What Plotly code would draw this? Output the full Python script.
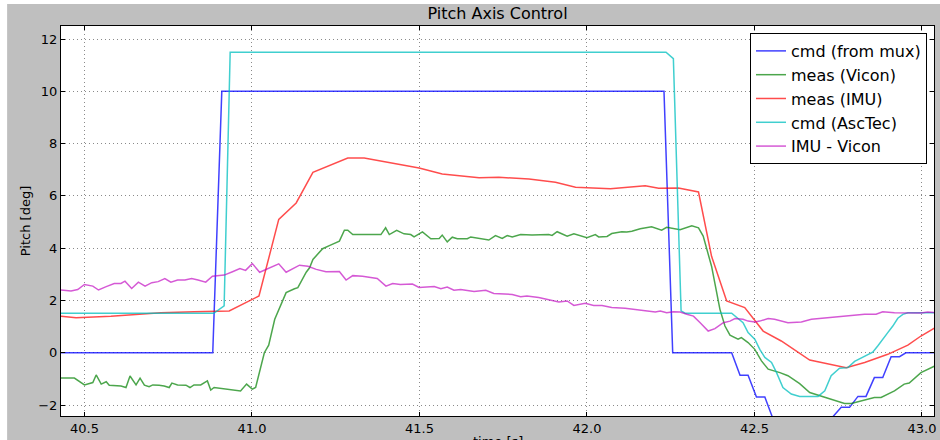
import plotly.graph_objects as go

# ---- recorded signals: time [s] and pitch [deg] ----
t_mux = [40.43, 40.883, 40.910, 42.230, 42.256, 42.432, 42.457, 42.481, 42.506, 42.531,
         42.556, 42.580, 42.605, 42.630, 42.655, 42.680, 42.710, 42.734, 42.759, 42.784,
         42.809, 42.833, 42.858, 42.883, 42.908, 42.933, 42.952, 43.04]
cmd_mux = [0, 0, 10, 10, 0, 0, -0.86, -0.86, -1.69, -1.69,
           -2.55, -2.55, -3.3, -3.3, -3.3, -3.3, -2.45, -2.45, -2.09, -2.09,
           -1.67, -1.67, -0.95, -0.95, -0.15, -0.15, 0, 0]

t_vicon = [40.43, 40.470, 40.500, 40.525, 40.535, 40.550, 40.565, 40.574, 40.609, 40.624,
           40.636, 40.654, 40.666, 40.679, 40.693, 40.704, 40.723, 40.738, 40.753, 40.761,
           40.778, 40.793, 40.803, 40.815, 40.827, 40.847, 40.867, 40.877, 40.887, 40.966,
           40.984, 41.001, 41.011, 41.037, 41.050, 41.068, 41.102, 41.127, 41.137, 41.162,
           41.172, 41.182, 41.211, 41.231, 41.261, 41.276, 41.286, 41.301, 41.330, 41.385,
           41.399, 41.410, 41.432, 41.454, 41.474, 41.484, 41.509, 41.534, 41.559, 41.568,
           41.583, 41.598, 41.613, 41.643, 41.653, 41.707, 41.727, 41.747, 41.762, 41.777,
           41.802, 41.836, 41.886, 41.896, 41.911, 41.941, 41.961, 42.000, 42.025, 42.035,
           42.060, 42.074, 42.104, 42.119, 42.134, 42.159, 42.193, 42.223, 42.238, 42.278,
           42.313, 42.333, 42.347, 42.372, 42.397, 42.412, 42.427, 42.451, 42.461, 42.481,
           42.501, 42.521, 42.541, 42.576, 42.600, 42.635, 42.665, 42.699, 42.739, 42.769,
           42.789, 42.829, 42.858, 42.878, 42.898, 42.918, 42.947, 42.962, 42.997, 43.017,
           43.04]
meas_vicon = [-0.97, -0.97, -1.23, -1.14, -0.85, -1.20, -1.11, -1.24, -1.27, -1.33,
              -0.89, -1.23, -0.97, -1.24, -1.30, -1.23, -1.24, -1.27, -1.33, -1.16,
              -1.23, -1.24, -1.24, -1.33, -1.23, -1.23, -1.08, -1.43, -1.33, -1.46,
              -1.20, -1.39, -1.33, 0.0, 0.29, 1.28, 2.30, 2.45, 2.49, 3.08,
              3.25, 3.57, 3.98, 4.10, 4.27, 4.69, 4.69, 4.52, 4.52, 4.52,
              4.78, 4.52, 4.68, 4.55, 4.52, 4.43, 4.62, 4.36, 4.37, 4.50,
              4.24, 4.42, 4.36, 4.36, 4.43, 4.31, 4.48, 4.37, 4.48, 4.43,
              4.52, 4.50, 4.52, 4.49, 4.63, 4.46, 4.55, 4.40, 4.52, 4.43,
              4.45, 4.56, 4.63, 4.62, 4.65, 4.74, 4.82, 4.69, 4.80, 4.71,
              4.86, 4.78, 4.46, 3.31, 1.66, 1.02, 0.67, 0.52, 0.58, 0.39,
              0.13, -0.31, -0.63, -0.76, -0.88, -1.18, -1.52, -1.65, -1.83, -1.94,
              -1.94, -1.81, -1.71, -1.71, -1.58, -1.46, -1.20, -1.16, -0.76, -0.63,
              -0.50]

t_imu = [40.43, 40.475, 40.579, 40.728, 40.827, 40.932, 41.021, 41.080, 41.132, 41.182,
         41.286, 41.335, 41.499, 41.568, 41.678, 41.737, 41.827, 41.906, 41.966, 42.070,
         42.174, 42.214, 42.273, 42.333, 42.372, 42.417, 42.471, 42.526, 42.580, 42.665,
         42.774, 42.829, 42.898, 42.958, 42.997, 43.04]
meas_imu = [1.40, 1.34, 1.40, 1.53, 1.57, 1.60, 2.17, 5.10, 5.73, 6.90,
            7.45, 7.45, 7.07, 6.84, 6.69, 6.71, 6.65, 6.52, 6.33, 6.27,
            6.39, 6.29, 6.30, 6.15, 3.69, 1.98, 1.73, 0.83, 0.45, -0.28,
            -0.57, -0.37, -0.06, 0.29, 0.64, 0.96]

t_asctec = [40.43, 40.886, 40.917, 40.935, 42.236, 42.258, 42.281, 42.293, 42.432, 42.442,
            42.466, 42.481, 42.501, 42.516, 42.531, 42.551, 42.566, 42.585, 42.610, 42.635,
            42.690, 42.710, 42.729, 42.754, 42.779, 42.799, 42.829, 42.853, 42.868, 42.883,
            42.898, 42.913, 42.928, 42.943, 42.958, 43.04]
cmd_asctec = [1.51, 1.51, 1.79, 11.5, 11.5, 11.25, 1.60, 1.51, 1.51, 1.41,
              1.15, 0.77, 0.52, 0.13, -0.18, -0.37, -0.76, -1.33, -1.58, -1.67,
              -1.67, -1.46, -0.88, -0.59, -0.57, -0.33, -0.15, 0.02, 0.26, 0.54,
              0.77, 1.02, 1.32, 1.47, 1.53, 1.53]

t_diff = [40.43, 40.460, 40.480, 40.500, 40.525, 40.542, 40.565, 40.589, 40.609, 40.621,
          40.641, 40.661, 40.681, 40.701, 40.720, 40.740, 40.758, 40.778, 40.800, 40.820,
          40.839, 40.862, 40.882, 40.917, 40.942, 40.964, 40.981, 41.001, 41.023, 41.080,
          41.102, 41.142, 41.167, 41.192, 41.221, 41.261, 41.281, 41.301, 41.330, 41.374,
          41.400, 41.420, 41.443, 41.479, 41.499, 41.524, 41.544, 41.564, 41.583, 41.603,
          41.623, 41.663, 41.698, 41.722, 41.757, 41.777, 41.802, 41.821, 41.856, 41.886,
          41.916, 41.941, 41.961, 41.995, 42.020, 42.045, 42.074, 42.114, 42.154, 42.184,
          42.204, 42.219, 42.238, 42.258, 42.278, 42.298, 42.318, 42.338, 42.362, 42.382,
          42.407, 42.427, 42.442, 42.466, 42.481, 42.501, 42.516, 42.541, 42.560, 42.600,
          42.640, 42.670, 42.749, 42.829, 42.863, 42.883, 42.918, 42.958, 42.997, 43.017,
          43.04]
imu_minus_vicon = [2.40, 2.36, 2.42, 2.61, 2.55, 2.40, 2.53, 2.65, 2.65, 2.74,
                   2.46, 2.70, 2.55, 2.68, 2.72, 2.84, 2.70, 2.78, 2.78, 2.84,
                   2.78, 2.70, 2.93, 2.97, 3.10, 3.22, 3.15, 3.41, 3.08, 3.40,
                   3.08, 3.35, 3.31, 3.19, 3.10, 3.11, 2.78, 2.95, 2.93, 2.84,
                   2.55, 2.65, 2.61, 2.63, 2.50, 2.51, 2.53, 2.45, 2.51, 2.39,
                   2.42, 2.34, 2.39, 2.27, 2.23, 2.23, 2.14, 2.17, 2.11, 2.02,
                   1.94, 1.98, 1.81, 1.89, 1.81, 1.81, 1.73, 1.70, 1.63, 1.60,
                   1.56, 1.60, 1.53, 1.57, 1.56, 1.47, 1.40, 1.15, 0.83, 0.92,
                   1.15, 1.21, 1.31, 1.28, 1.21, 1.18, 1.21, 1.31, 1.28, 1.15,
                   1.18, 1.28, 1.38, 1.47, 1.47, 1.57, 1.53, 1.52, 1.52, 1.56,
                   1.53]

x_ticks = [40.5, 41.0, 41.5, 42.0, 42.5, 43.0]
y_ticks = [-2, 0, 2, 4, 6, 8, 10, 12]

FONT = "DejaVu Sans"
W, H = 940, 440
ML, MR, MT, MB = 61, 4, 26, 23
PW, PH = W - ML - MR, H - MT - MB

series = [
    ("cmd (from mux)", t_mux, cmd_mux, "rgba(0,0,255,0.75)"),
    ("meas (Vicon)", t_vicon, meas_vicon, "rgba(0,128,0,0.7)"),
    ("meas (IMU)", t_imu, meas_imu, "rgba(255,0,0,0.7)"),
    ("cmd (AscTec)", t_asctec, cmd_asctec, "rgba(0,191,191,0.75)"),
    ("IMU - Vicon", t_diff, imu_minus_vicon, "rgba(191,0,191,0.65)"),
]

fig = go.Figure()
for name, xs, ys, col in series:
    fig.add_trace(go.Scatter(x=xs, y=ys, mode="lines", name=name,
                             line=dict(color=col, width=1.5)))

axis_common = dict(
    showline=True, linecolor="black", linewidth=1, mirror="ticks",
    ticks="inside", ticklen=4, tickcolor="black", tickwidth=1,
    showgrid=True, gridcolor="#8a8a8a", gridwidth=1, griddash="1px,3px",
    zeroline=False, tickfont=dict(family=FONT, size=13, color="black"),
)

fig.update_xaxes(range=[40.43, 43.036], tickvals=x_ticks,
                 ticktext=[f"{v:.1f}" for v in x_ticks], **axis_common)
fig.update_yaxes(range=[-2.42, 12.5], tickvals=y_ticks,
                 ticktext=[str(v).replace("-", "\u2212") for v in y_ticks],
                 title=dict(text="Pitch [deg]", font=dict(family=FONT, size=13, color="black"),
                            standoff=4),
                 **axis_common)

def px_x(p):
    return (p - ML) / PW

def px_y(p):
    return (H - MB - p) / PH

fig.update_layout(
    width=W, height=H,
    margin=dict(l=ML, r=MR, t=MT, b=MB, pad=0),
    paper_bgcolor="#bfbfbf", plot_bgcolor="white",
    font=dict(family=FONT, color="black"),
    title=dict(text="Pitch Axis Control", x=0.5, xref="paper", xanchor="center",
               y=1 - 13.5 / H, yref="container", yanchor="middle",
               font=dict(family=FONT, size=16, color="black")),
    showlegend=True,
    legend=dict(x=px_x(929), y=px_y(33), xanchor="right", yanchor="top",
                bgcolor="white", bordercolor="black", borderwidth=1,
                font=dict(family=FONT, size=16, color="black"),
                tracegroupgap=0, itemwidth=30),
    shapes=[
        dict(type="rect", xref="paper", yref="paper", layer="below",
             x0=-1, x1=px_x(7), y0=-1, y1=2, fillcolor="white", line=dict(width=0)),
        dict(type="rect", xref="paper", yref="paper", layer="below",
             x0=-1, x1=2, y0=px_y(4), y1=2, fillcolor="white", line=dict(width=0)),
    ],
    annotations=[
        dict(text="time [s]", xref="paper", yref="paper", x=0.5, y=px_y(433),
             xanchor="center", yanchor="top", showarrow=False,
             font=dict(family=FONT, size=13, color="black")),
    ],
)

fig.write_html("out.html")
